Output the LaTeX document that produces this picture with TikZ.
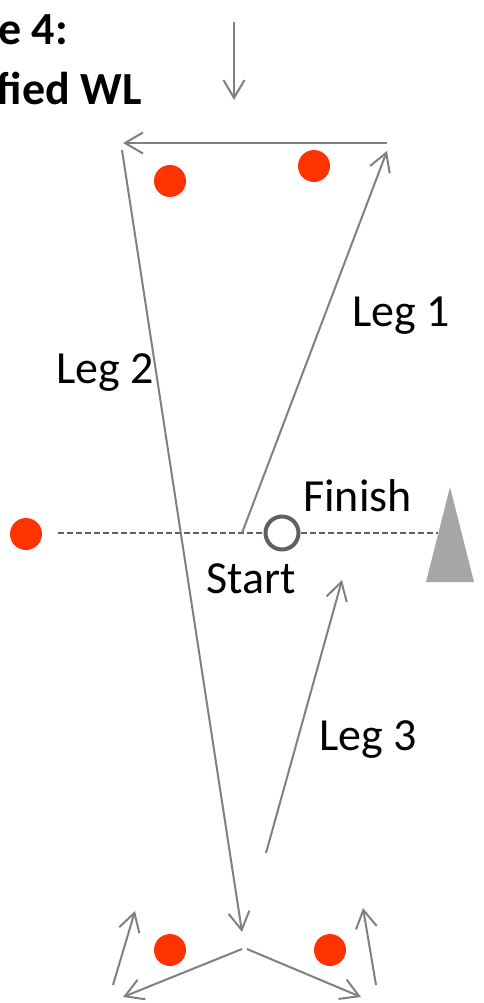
\documentclass[tikz,border=0pt]{standalone}
\usepackage{fontspec}
\setmainfont{Carlito}
\usetikzlibrary{arrows.meta}
\definecolor{buoyred}{HTML}{FF3300}
\definecolor{leggray}{HTML}{808080}
\definecolor{markgray}{HTML}{606060}
\definecolor{conegray}{HTML}{A6A6A6}
\tikzset{
  >={Straight Barb[length=18pt,width=21pt]},
  leg/.style={draw=leggray,line width=2pt,->},
  buoy/.style={circle,fill=buoyred,minimum size=32pt,inner sep=0pt},
  lbl/.style={anchor=base west,inner sep=0pt,font=\fontsize{46}{55}\selectfont},
}

\begin{document}
\begin{tikzpicture}[x=1pt,y=-1pt]
            \useasboundingbox (0,0) rectangle (483,1003);
            \node[lbl,anchor=base east,font=\fontsize{46}{55}\selectfont\bfseries] (title1) at (68,45) {e 4:};
            \node[lbl,anchor=base east,font=\fontsize{46}{55}\selectfont\bfseries] (title2) at (142,105) {fied WL};
            \foreach \n/\x/\y in {b1/170/181,b2/314/166,b3/26/534,b4/170/950,b5/330/950}{
                \node[buoy] (\n) at (\x,\y) {};
            }
            \coordinate (dashL) at (58,533);
            \coordinate (dashR) at (438,533);
            \draw[markgray,line width=1.5pt,dash pattern=on 6pt off 3pt] (dashL)--(dashR);
            \node[circle,draw=markgray,fill=white,line width=4pt,minimum size=33pt,inner sep=0pt] (start) at (282,533) {};
            \fill[conegray] (450,487)--(474,582)--(426,582)--cycle;
            \coordinate (in0) at (234,22);   \coordinate (in1) at (234,100);
            \coordinate (tr) at (387,143);   \coordinate (tl) at (123,143);
            \coordinate (l1a) at (242,533);  \coordinate (l1b) at (387,151);
            \coordinate (l2a) at (122,150);  \coordinate (l2b) at (242,932);
            \coordinate (l3a) at (266,853);  \coordinate (l3b) at (342,580);
            \coordinate (bla) at (242,949);  \coordinate (blb) at (123,997);
            \coordinate (bra) at (247,949);  \coordinate (brb) at (361,997);
            \coordinate (lua) at (113,985);  \coordinate (lub) at (135,911);
            \coordinate (rua) at (376,985);  \coordinate (rub) at (363,908);
            \foreach \a/\b in {in0/in1,tr/tl,l1a/l1b,l2a/l2b,l3a/l3b,bla/blb,bra/brb,lua/lub,rua/rub}{
                \draw[leg] (\a)--(\b);
            }
            \node[lbl] (leg1) at (352,326) {Leg 1};
            \node[lbl] (leg2) at (56,383) {Leg 2};
            \node[lbl] (finish) at (303,511) {Finish};
            \node[lbl] (startlbl) at (206,593) {Start};
            \node[lbl] (leg3) at (319,750) {Leg 3};
        \end{tikzpicture}
\end{document}
